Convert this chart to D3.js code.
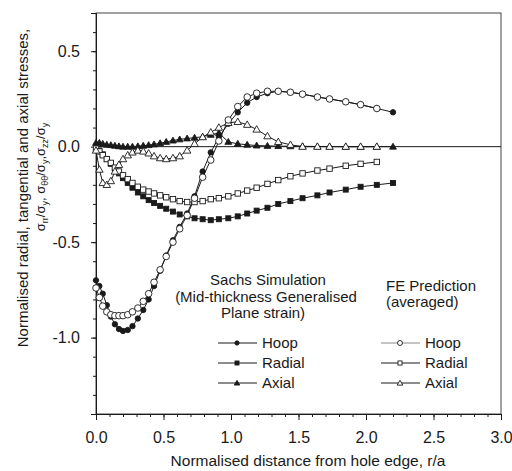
<!DOCTYPE html>
<html>
<head>
<meta charset="utf-8">
<script src="https://cdn.jsdelivr.net/npm/d3@7"></script>
<style>
  html, body { margin: 0; padding: 0; background: #fff; }
  svg { display: block; font-family: "Liberation Sans", Arial, sans-serif; }
</style>
</head>
<body>
<svg id="chart" width="512" height="471"></svg>
<script>
// Distance from hole edge (r/a) at which stresses are reported
const xSachs = [0, 0.025, 0.05, 0.08, 0.11, 0.14, 0.17, 0.20, 0.235, 0.27, 0.31, 0.35, 0.39, 0.43,
  0.475, 0.52, 0.57, 0.62, 0.675, 0.73, 0.79, 0.85, 0.91, 0.98, 1.05, 1.12, 1.19, 1.27, 1.35,
  1.44, 1.53, 1.64, 1.73, 1.85, 1.96, 2.08, 2.20];
const xFE = [0, 0.025, 0.05, 0.08, 0.11, 0.14, 0.17, 0.20, 0.235, 0.27, 0.31, 0.35, 0.39, 0.43,
  0.475, 0.52, 0.57, 0.62, 0.675, 0.73, 0.79, 0.85, 0.91, 0.98, 1.05, 1.12, 1.19, 1.27, 1.35,
  1.44, 1.53, 1.64, 1.73, 1.85, 1.96, 2.08];

// Sachs simulation (mid-thickness generalised plane strain)
const sachsHoop = [-0.70, -0.73, -0.77, -0.83, -0.89, -0.93, -0.955, -0.965, -0.96, -0.94, -0.90,
  -0.855, -0.80, -0.73, -0.65, -0.57, -0.49, -0.42, -0.35, -0.26, -0.13, -0.03, 0.05, 0.12, 0.18,
  0.23, 0.26, 0.28, 0.29, 0.285, 0.275, 0.26, 0.25, 0.235, 0.22, 0.20, 0.18];
const sachsRadial = [0, -0.02, -0.04, -0.065, -0.09, -0.115, -0.14, -0.165, -0.19, -0.215, -0.24,
  -0.26, -0.28, -0.295, -0.31, -0.325, -0.34, -0.355, -0.365, -0.375, -0.38, -0.385, -0.38, -0.375,
  -0.365, -0.35, -0.335, -0.32, -0.30, -0.285, -0.27, -0.255, -0.24, -0.225, -0.21, -0.20, -0.19];
const sachsAxial = [0.02, 0.02, 0.015, 0.01, 0.008, 0.005, 0.002, 0, 0, 0, 0.002, 0.005, 0.008,
  0.012, 0.018, 0.025, 0.032, 0.038, 0.043, 0.047, 0.052, 0.062, 0.072, 0.025, 0.015, 0.01, 0.006,
  0.004, 0.003, 0.002, 0.002, 0.001, 0.001, 0, 0, 0, 0];

// FE prediction (averaged)
const feHoop = [-0.74, -0.79, -0.835, -0.865, -0.88, -0.885, -0.885, -0.885, -0.88, -0.865, -0.845,
  -0.81, -0.77, -0.71, -0.645, -0.575, -0.50, -0.43, -0.36, -0.27, -0.16, -0.07, 0.03, 0.14, 0.21,
  0.26, 0.28, 0.29, 0.29, 0.285, 0.275, 0.26, 0.25, 0.235, 0.22, 0.20];
const feRadial = [-0.01, -0.025, -0.045, -0.065, -0.085, -0.11, -0.13, -0.15, -0.17, -0.19, -0.21,
  -0.225, -0.235, -0.245, -0.255, -0.265, -0.275, -0.285, -0.29, -0.29, -0.285, -0.275, -0.27,
  -0.26, -0.245, -0.23, -0.215, -0.195, -0.175, -0.155, -0.14, -0.125, -0.115, -0.10, -0.09, -0.08];
const feAxial = [-0.02, -0.12, -0.19, -0.20, -0.18, -0.13, -0.095, -0.065, -0.045, -0.03, -0.02,
  -0.025, -0.035, -0.05, -0.06, -0.065, -0.06, -0.05, -0.02, 0.015, 0.05, 0.075, 0.10, 0.125, 0.13,
  0.115, 0.09, 0.055, 0.025, 0.01, 0, 0, 0, 0, 0, 0];

// Axis ticks
const xMajorTicks = [0, 0.5, 1.0, 1.5, 2.0, 2.5, 3.0];
const yMajorTicks = [0.5, 0.0, -0.5, -1.0];
const legendNames = ["Hoop", "Radial", "Axial"];

const svg = d3.select("#chart");
const margin = { left: 96, right: 11, top: 13, bottom: 57 };
const W = 512, H = 471;
const x = d3.scaleLinear().domain([0, 3]).range([margin.left, W - margin.right]);
const y = d3.scaleLinear().domain([-1.4, 0.7]).range([H - margin.bottom, margin.top]);
const ink = "#1a1a1a";

// Frame
svg.append("rect")
  .attr("x", x(0)).attr("y", y(0.7))
  .attr("width", x(3) - x(0)).attr("height", y(-1.4) - y(0.7))
  .attr("fill", "none").attr("stroke", "#444").attr("stroke-width", 1);

// Zero reference line
svg.append("line")
  .attr("x1", x(0)).attr("x2", x(3)).attr("y1", y(0)).attr("y2", y(0))
  .attr("stroke", ink).attr("stroke-width", 1);

// X axis (ticks point down)
const xAxisMinor = d3.axisBottom(x).tickValues(d3.range(0, 3.001, 0.1)).tickSize(3).tickFormat("");
const xAxisMajor = d3.axisBottom(x).tickValues(xMajorTicks).tickSize(6).tickPadding(12)
  .tickFormat(d3.format(".1f"));
const gx1 = svg.append("g").attr("transform", `translate(0,${y(-1.4)})`).call(xAxisMinor);
const gx2 = svg.append("g").attr("transform", `translate(0,${y(-1.4)})`).call(xAxisMajor);
[gx1, gx2].forEach(g => {
  g.select(".domain").attr("stroke", ink);
  g.selectAll(".tick line").attr("stroke", ink);
});
gx2.selectAll(".tick text").attr("font-size", 16).attr("fill", ink)
  .attr("font-family", "Liberation Sans, Arial, sans-serif");

// Y axis (ticks point left)
const yAxisMinor = d3.axisLeft(y).tickValues(d3.range(-1.4, 0.7001, 0.1)).tickSize(3).tickFormat("");
const yAxisMajor = d3.axisLeft(y).tickValues(yMajorTicks).tickSize(5).tickPadding(11)
  .tickFormat(d3.format(".1f"));
const gy1 = svg.append("g").attr("transform", `translate(${x(0)},0)`).call(yAxisMinor);
const gy2 = svg.append("g").attr("transform", `translate(${x(0)},0)`).call(yAxisMajor);
[gy1, gy2].forEach(g => {
  g.select(".domain").attr("stroke", ink);
  g.selectAll(".tick line").attr("stroke", ink);
});
gy2.selectAll(".tick text").attr("font-size", 16).attr("fill", ink)
  .attr("font-family", "Liberation Sans, Arial, sans-serif")
  .text(d => d3.format(".1f")(d).replace("−", "-"));

// Axis titles
svg.append("text")
  .attr("x", 308).attr("y", 466)
  .attr("text-anchor", "middle").attr("font-size", 15.5).attr("fill", ink)
  .text("Normalised distance from hole edge, r/a");

svg.append("text")
  .attr("transform", `translate(28,${188}) rotate(-90)`)
  .attr("text-anchor", "middle").attr("font-size", 15).attr("fill", ink)
  .text("Normalised radial, tangential and axial stresses,");

const yt2 = svg.append("text")
  .attr("transform", `translate(45,${177}) rotate(-90)`)
  .attr("text-anchor", "middle").attr("font-size", 13).attr("fill", ink);
const sub = (base, s, tail) => {
  yt2.append("tspan").text(base);
  yt2.append("tspan").attr("font-size", 9).attr("dy", 3).text(s);
  yt2.append("tspan").attr("dy", -3).text(tail);
};
sub("σ", "rr", "/");
sub("σ", "y", ", ");
sub("σ", "θθ", "/");
sub("σ", "y", ",");
sub("σ", "zz", "/");
sub("σ", "y", "");

// Series definitions
const series = [
  { xs: xSachs, ys: sachsRadial, shape: "square", filled: true },
  { xs: xSachs, ys: sachsAxial, shape: "triangle", filled: true },
  { xs: xSachs, ys: sachsHoop, shape: "circle", filled: true },
  { xs: xFE, ys: feRadial, shape: "square", filled: false },
  { xs: xFE, ys: feAxial, shape: "triangle", filled: false },
  { xs: xFE, ys: feHoop, shape: "circle", filled: false }
];

const line = d3.line().x(d => x(d[0])).y(d => y(d[1]));

function drawMarker(g, shape, filled, cx, cy, scale = 1) {
  const fill = filled ? ink : "#fff";
  if (shape === "circle") {
    g.append("circle").attr("cx", cx).attr("cy", cy)
      .attr("r", (filled ? 2.7 : 3.3) * scale)
      .attr("fill", fill).attr("stroke", ink).attr("stroke-width", 0.9);
  } else if (shape === "square") {
    const s = (filled ? 5 : 5.4) * scale;
    g.append("rect").attr("x", cx - s / 2).attr("y", cy - s / 2)
      .attr("width", s).attr("height", s)
      .attr("fill", fill).attr("stroke", ink).attr("stroke-width", 0.9);
  } else {
    g.append("path")
      .attr("d", d3.symbol(d3.symbolTriangle, (filled ? 20 : 24) * scale * scale)())
      .attr("transform", `translate(${cx},${cy + 0.5})`)
      .attr("fill", fill).attr("stroke", ink).attr("stroke-width", 0.9);
  }
}

// Lines first
series.forEach(s => {
  const pts = s.xs.map((v, i) => [v, s.ys[i]]);
  svg.append("path").datum(pts).attr("d", line)
    .attr("fill", "none").attr("stroke", ink).attr("stroke-width", 1);
});
// Then markers (FE open markers on top)
series.forEach(s => {
  const g = svg.append("g");
  s.xs.forEach((v, i) => drawMarker(g, s.shape, s.filled, x(v), y(s.ys[i])));
});

// Legend
const lg = svg.append("g").attr("fill", ink);
const legendText = (tx, ty, str, anchor) =>
  lg.append("text").attr("x", tx).attr("y", ty).attr("font-size", 15)
    .attr("text-anchor", anchor || "start").text(str);
legendText(268, 285, "Sachs Simulation", "middle");
legendText(266, 302, "(Mid-thickness Generalised", "middle");
legendText(263, 318, "Plane strain)", "middle");
legendText(386, 291, "FE Prediction");
legendText(386, 307, "(averaged)");

const shapes = ["circle", "square", "triangle"];
const rowsY = [343, 363, 383];
legendNames.forEach((name, i) => {
  const yy = rowsY[i];
  // Sachs entry
  lg.append("line").attr("x1", 218).attr("x2", 257).attr("y1", yy).attr("y2", yy)
    .attr("stroke", ink).attr("stroke-width", 1);
  drawMarker(lg, shapes[i], true, 237, yy, 0.8);
  legendText(262, yy + 5, name);
  // FE entry
  lg.append("line").attr("x1", 381).attr("x2", 420).attr("y1", yy).attr("y2", yy)
    .attr("stroke", i === 0 ? "#888" : ink).attr("stroke-width", 1);
  drawMarker(lg, shapes[i], false, 400, yy, 0.75);
  legendText(425, yy + 5, name);
});
</script>
</body>
</html>
